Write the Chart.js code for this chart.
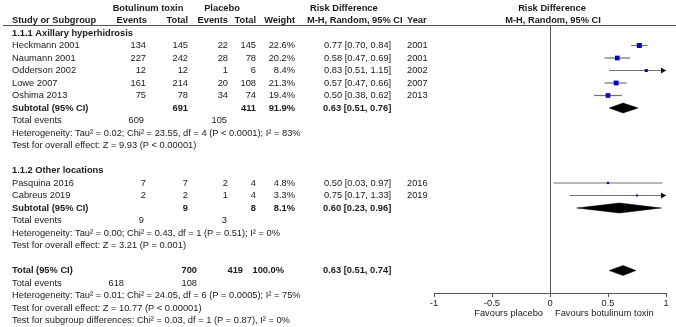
<!DOCTYPE html>
<html>
<head>
<meta charset="utf-8">
<script src="https://cdn.jsdelivr.net/npm/chart.js@4.4.1/dist/chart.umd.min.js"></script>
<style>
  html, body { margin: 0; padding: 0; background: #fff; }
  canvas { display: block; }
</style>
</head>
<body>
<canvas id="forest" width="676" height="327"></canvas>
<script>
// Study level data (display order)
const studies = ['Heckmann 2001', 'Naumann 2001', 'Odderson 2002', 'Lowe 2007', 'Oshima 2013', 'Pasquina 2016', 'Cabreus 2019'];
const botEvents = [134, 227, 12, 161, 75, 7, 2];
const botTotal = [145, 242, 12, 214, 78, 7, 2];
const plaEvents = [22, 28, 1, 20, 34, 2, 1];
const plaTotal = [145, 78, 6, 108, 74, 4, 4];
const weights = [22.6, 20.2, 8.4, 21.3, 19.4, 4.8, 3.3];
const rd = [0.77, 0.58, 0.83, 0.57, 0.50, 0.50, 0.75];
const rdLow = [0.70, 0.47, 0.51, 0.47, 0.38, 0.03, 0.17];
const rdHigh = [0.84, 0.69, 1.15, 0.66, 0.62, 0.97, 1.33];
const years = [2001, 2001, 2002, 2007, 2013, 2016, 2019];

// Subgroups
const subgroups = ['1.1.1 Axillary hyperhidrosis', '1.1.2 Other locations'];
const subBotTotal = [691, 9];
const subPlaTotal = [411, 8];
const subWeight = [91.9, 8.1];
const subBotEvents = [609, 9];
const subPlaEvents = [105, 3];

// Pooled estimates: subtotal 1, subtotal 2, overall
const poolRd = [0.63, 0.60, 0.63];
const poolLow = [0.51, 0.23, 0.51];
const poolHigh = [0.76, 0.96, 0.74];

// Overall total
const totBot = 700;
const totPla = 419;
const totWeight = 100.0;
const totBotEvents = 618;
const totPlaEvents = 108;

const heterogeneity = [
  'Heterogeneity: Tau² = 0.02; Chi² = 23.55, df = 4 (P < 0.0001); I² = 83%',
  'Heterogeneity: Tau² = 0.00; Chi² = 0.43, df = 1 (P = 0.51); I² = 0%',
  'Heterogeneity: Tau² = 0.01; Chi² = 24.05, df = 6 (P = 0.0005); I² = 75%'
];
const overallEffect = [
  'Test for overall effect: Z = 9.93 (P < 0.00001)',
  'Test for overall effect: Z = 3.21 (P = 0.001)',
  'Test for overall effect: Z = 10.77 (P < 0.00001)'
];
const subgroupTest = 'Test for subgroup differences: Chi² = 0.03, df = 1 (P = 0.87), I² = 0%';

const xTicks = [-1, -0.5, 0, 0.5, 1];
const favours = ['Favours placebo', 'Favours botulinum toxin'];

// row index of each line of the table
const studyRows = [1, 2, 3, 4, 5, 12, 13];
const subgroupRows = [0, 11];
const subtotalRows = [6, 14];
const poolRows = [6, 14, 19];
const totalRow = 19;

const FONT = '"Liberation Sans", Arial, sans-serif';
const FS = 9.3;
const TEXT = '#1a1a1a';

const fmt = v => v.toFixed(2);
const ciText = (e, l, h) => `${fmt(e)} [${fmt(l)}, ${fmt(h)}]`;

// confidence interval lines, one dataset each
const ciSets = studies.map((s, i) => ({
  label: s,
  data: [{ x: rdLow[i], y: studyRows[i] }, { x: rdHigh[i], y: studyRows[i] }],
  borderColor: '#707070',
  borderWidth: 1.2,
  pointRadius: 0,
  order: 3
}));

// weighted squares
const squareSet = {
  label: 'Studies',
  data: studies.map((s, i) => ({ x: rd[i], y: studyRows[i] })),
  showLine: false,
  pointStyle: 'rect',
  pointRadius: c => 0.74 * Math.sqrt(weights[c.dataIndex]),
  pointBackgroundColor: '#0000cc',
  pointBorderWidth: 0,
  order: 1
};

// pooled diamonds
const halfH = 0.4;
const diamondSets = poolRd.map((e, i) => ({
  label: 'Pooled ' + i,
  data: [
    { x: poolLow[i], y: poolRows[i] },
    { x: e, y: poolRows[i] - halfH },
    { x: poolHigh[i], y: poolRows[i] },
    { x: e, y: poolRows[i] + halfH },
    { x: poolLow[i], y: poolRows[i] }
  ],
  borderColor: '#000',
  backgroundColor: '#000',
  borderWidth: 0.5,
  pointRadius: 0,
  fill: 'shape',
  order: 2
}));

const arrowPlugin = {
  id: 'ciArrows',
  afterDatasetsDraw(chart) {
    const ctx = chart.ctx;
    const xs = chart.scales.x, ys = chart.scales.y;
    ctx.save();
    ctx.fillStyle = '#111';
    studies.forEach((s, i) => {
      if (rdHigh[i] > xs.max) {
        const px = xs.getPixelForValue(xs.max);
        const py = ys.getPixelForValue(studyRows[i]);
        ctx.beginPath();
        ctx.moveTo(px, py);
        ctx.lineTo(px - 5, py - 3);
        ctx.lineTo(px - 5, py + 3);
        ctx.closePath();
        ctx.fill();
      }
    });
    ctx.restore();
  }
};

const tablePlugin = {
  id: 'forestTable',
  afterDraw(chart) {
    const ctx = chart.ctx;
    const xs = chart.scales.x, ys = chart.scales.y;
    const area = chart.chartArea;
    const x0 = xs.getPixelForValue(0);
    ctx.save();
    ctx.fillStyle = TEXT;
    ctx.textBaseline = 'middle';
    function txt(str, px, row, align, bold) {
      ctx.font = (bold ? 'bold ' : '') + FS + 'px ' + FONT;
      ctx.textAlign = align || 'left';
      ctx.fillText(String(str), px, ys.getPixelForValue(row));
    }

    // header line
    ctx.strokeStyle = '#555';
    ctx.lineWidth = 1;
    ctx.beginPath();
    ctx.moveTo(3, Math.round(area.top) + 0.5);
    ctx.lineTo(676, Math.round(area.top) + 0.5);
    ctx.stroke();

    // headers
    txt('Botulinum toxin', 148, -1.95, 'center', true);
    txt('Placebo', 222, -1.95, 'center', true);
    txt('Risk Difference', 310, -1.95, 'left', true);
    txt('Risk Difference', x0 + 2, -1.95, 'center', true);
    txt('Study or Subgroup', 12, -1, 'left', true);
    txt('Events', 147, -1, 'right', true);
    txt('Total', 188, -1, 'right', true);
    txt('Events', 228, -1, 'right', true);
    txt('Total', 256, -1, 'right', true);
    txt('Weight', 295, -1, 'right', true);
    txt('M-H, Random, 95% CI', 307, -1, 'left', true);
    txt('Year', 407, -1, 'left', true);
    txt('M-H, Random, 95% CI', x0 + 3, -1, 'center', true);

    // subgroups
    subgroups.forEach((g, j) => {
      txt(g, 12, subgroupRows[j], 'left', true);
      const r = subtotalRows[j];
      txt('Subtotal (95% CI)', 12, r, 'left', true);
      txt(subBotTotal[j], 188, r, 'right', true);
      txt(subPlaTotal[j], 256, r, 'right', true);
      txt(subWeight[j].toFixed(1) + '%', 295, r, 'right', true);
      txt(ciText(poolRd[j], poolLow[j], poolHigh[j]), 323, r, 'left', true);
      txt('Total events', 12, r + 1, 'left');
      txt(subBotEvents[j], 144, r + 1, 'right');
      txt(subPlaEvents[j], 227, r + 1, 'right');
      txt(heterogeneity[j], 12, r + 2, 'left');
      txt(overallEffect[j], 12, r + 3, 'left');
    });

    // studies
    studies.forEach((s, i) => {
      const r = studyRows[i];
      txt(s, 12, r, 'left');
      txt(botEvents[i], 146, r, 'right');
      txt(botTotal[i], 188, r, 'right');
      txt(plaEvents[i], 228, r, 'right');
      txt(plaTotal[i], 256, r, 'right');
      txt(weights[i].toFixed(1) + '%', 295, r, 'right');
      txt(ciText(rd[i], rdLow[i], rdHigh[i]), 324, r, 'left');
      txt(years[i], 407, r, 'left');
    });

    // overall
    txt('Total (95% CI)', 12, totalRow, 'left', true);
    txt(totBot, 197, totalRow, 'right', true);
    txt(totPla, 243, totalRow, 'right', true);
    txt(totWeight.toFixed(1) + '%', 284, totalRow, 'right', true);
    txt(ciText(poolRd[2], poolLow[2], poolHigh[2]), 323, totalRow, 'left', true);
    txt('Total events', 12, totalRow + 1, 'left');
    txt(totBotEvents, 124, totalRow + 1, 'right');
    txt(totPlaEvents, 197, totalRow + 1, 'right');
    txt(heterogeneity[2], 12, totalRow + 2, 'left');
    txt(overallEffect[2], 12, totalRow + 3, 'left');
    txt(subgroupTest, 12, totalRow + 4, 'left');

    // favours labels under the axis
    ctx.font = FS + 'px ' + FONT;
    ctx.textAlign = 'right';
    ctx.fillText(favours[0], x0 - 7, area.bottom + 20);
    ctx.textAlign = 'left';
    ctx.fillText(favours[1], x0 + 5, area.bottom + 20);
    ctx.restore();
  }
};

new Chart(document.getElementById('forest'), {
  type: 'line',
  data: { datasets: [squareSet, ...diamondSets, ...ciSets] },
  options: {
    responsive: false,
    animation: false,
    events: [],
    layout: { padding: { left: 434, right: 10, top: 25, bottom: 14 } },
    plugins: { legend: { display: false }, tooltip: { enabled: false } },
    scales: {
      x: {
        type: 'linear',
        min: -1,
        max: 1,
        afterBuildTicks: scale => { scale.ticks = xTicks.map(v => ({ value: v })); },
        afterFit: scale => { scale.height = 20; },
        border: { display: true, color: '#555', width: 1 },
        grid: {
          drawOnChartArea: true,
          color: c => (c.tick && c.tick.value === 0 ? '#555' : 'rgba(0,0,0,0)'),
          tickColor: '#555',
          tickLength: 4
        },
        ticks: {
          color: TEXT,
          padding: 1,
          font: { family: FONT, size: FS },
          maxRotation: 0,
          autoSkip: false,
          callback: v => String(v)
        }
      },
      y: {
        type: 'linear',
        display: false,
        reverse: true,
        min: -0.64,
        max: 20.8
      }
    }
  },
  plugins: [arrowPlugin, tablePlugin]
});
</script>
</body>
</html>
